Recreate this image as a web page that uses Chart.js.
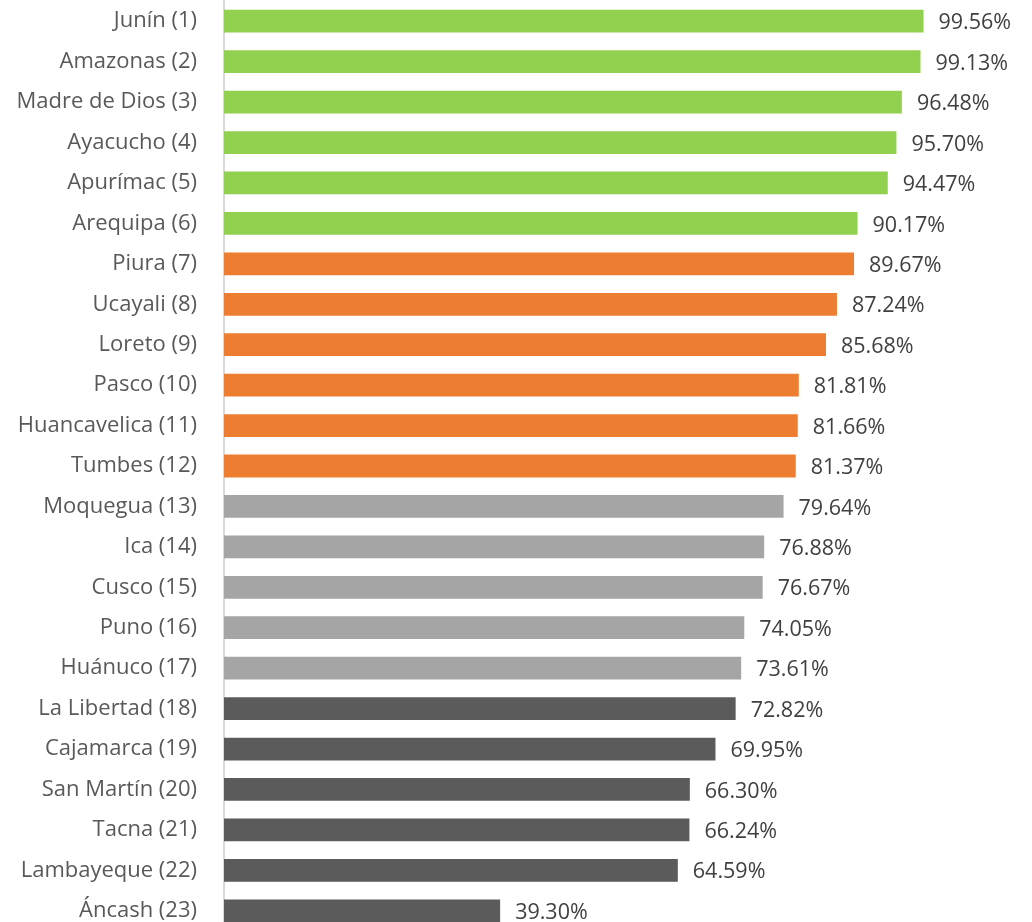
<!DOCTYPE html>
<html><head><meta charset="utf-8">
<script src="https://cdn.jsdelivr.net/npm/chart.js@4"></script>
<style>
html,body{margin:0;padding:0;background:#fff;overflow:hidden;}
canvas{display:block;}
</style></head>
<body>
<canvas id="c" width="1032" height="931"></canvas>
<script>
const categories = ["Junín (1)","Amazonas (2)","Madre de Dios (3)","Ayacucho (4)","Apurímac (5)","Arequipa (6)","Piura (7)","Ucayali (8)","Loreto (9)","Pasco (10)","Huancavelica (11)","Tumbes (12)","Moquegua (13)","Ica (14)","Cusco (15)","Puno (16)","Huánuco (17)","La Libertad (18)","Cajamarca (19)","San Martín (20)","Tacna (21)","Lambayeque (22)","Áncash (23)"];
const values = [99.56,99.13,96.48,95.70,94.47,90.17,89.67,87.24,85.68,81.81,81.66,81.37,79.64,76.88,76.67,74.05,73.61,72.82,69.95,66.30,66.24,64.59,39.30];
const groupColors = ["#92D050","#ED7D31","#A5A5A5","#5A5B5A"];
const groupOf = [0,0,0,0,0,0,1,1,1,1,1,1,2,2,2,2,2,3,3,3,3,3,3];

const FONT = "'Open Sans', sans-serif";
const valueLabels = {
  id:'valueLabels',
  afterDatasetsDraw(chart){
    const ctx = chart.ctx;
    const meta = chart.getDatasetMeta(0);
    ctx.save();
    ctx.font = "21.5px " + FONT;
    ctx.fillStyle = "#404040";
    ctx.textAlign = "left";
    ctx.textBaseline = "middle";
    meta.data.forEach((bar,i)=>{
      ctx.fillText(values[i].toFixed(2) + "%", bar.x + 15, bar.y + 2);
    });
    ctx.restore();
  }
};

new Chart(document.getElementById('c'), {
  type:'bar',
  data:{
    labels:categories,
    datasets:[{
      data:values,
      backgroundColor:groupOf.map(g=>groupColors[g]),
      borderWidth:0,
      categoryPercentage:1,
      barPercentage:0.563
    }]
  },
  options:{
    indexAxis:'y',
    responsive:false,
    animation:false,
    layout:{padding:{top:1,right:0,bottom:0,left:0}},
    plugins:{legend:{display:false},tooltip:{enabled:false}},
    scales:{
      x:{display:false,min:0,max:115},
      y:{
        grid:{display:false,drawTicks:false},
        border:{display:true,color:"#D9D9D9",width:2},
        ticks:{color:"#595959",font:{family:FONT,size:22},padding:27},
        afterFit(scale){scale.width = 224; scale.paddingTop = 0; scale.paddingBottom = 0;}
      }
    }
  },
  plugins:[valueLabels]
});
</script>
</body></html>
